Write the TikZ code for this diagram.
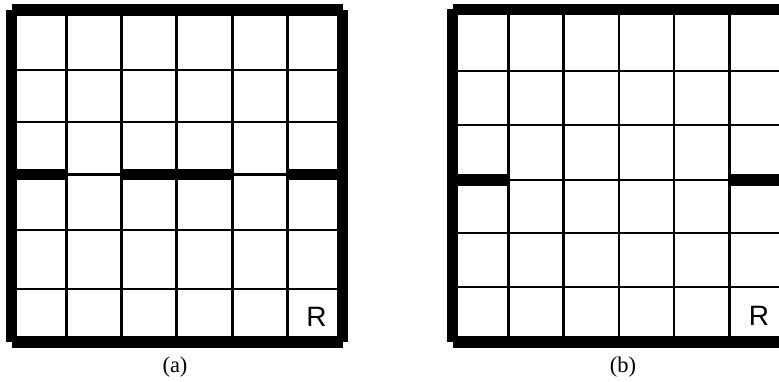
\documentclass[tikz,border=0pt]{standalone}
\usepackage{fontspec}
\newfontfamily\rfont{Liberation Sans}
\newfontfamily\capfont{Liberation Serif}
\begin{document}
\begin{tikzpicture}[x=1pt,y=-1pt,
  gridline/.style={line width=2.6pt, line cap=butt},
  wall/.style={line width=11.5pt, line cap=butt},
  rmark/.style={font=\rfont\fontsize{28}{28}\selectfont, inner sep=0pt, anchor=base},
  caption/.style={font=\capfont\fontsize{22.5}{22.5}\selectfont, inner sep=0pt, anchor=base}]
\useasboundingbox (0,0) rectangle (779,382);
\clip (0,0) rectangle (779,382);
% ---------- grid (a) ----------
\foreach \x in {11.5,66.3,121.2,176.7,232.3,287.3,342.5}
  \draw[gridline] (\x,10) -- (\x,342);
\foreach \y in {10,70,122,174.5,230,289,342}
  \draw[gridline] (11.5,\y) -- (342.5,\y);
\draw[wall] (11.5,10) -- (342.5,10);
\draw[wall] (11.5,10) -- (11.5,342);
\draw[wall] (342.5,10) -- (342.5,342);
\draw[wall] (11.5,342) -- (342.5,342);
\draw[wall] (11.5,174.5) -- (66.3,174.5);
\draw[wall] (121.2,174.5) -- (232.3,174.5);
\draw[wall] (287.3,174.5) -- (342.5,174.5);
\node[rmark] (ra) at (316.5,326) {R};
\node[caption] (capa) at (175,372) {(a)};
% ---------- grid (b) ----------
\foreach \x in {452.5,508.3,563.7,619,674,729.5,785}
  \draw[gridline] (\x,9.5) -- (\x,342);
\foreach \y in {9.5,71,125,180,233,287,342}
  \draw[gridline] (452.5,\y) -- (785,\y);
\draw[wall] (452.5,9.5) -- (785,9.5);
\draw[wall] (452.5,9.5) -- (452.5,342);
\draw[wall] (785,9.5) -- (785,342);
\draw[wall] (452.5,342) -- (785,342);
\draw[wall] (452.5,180) -- (508.3,180);
\draw[wall] (729.5,180) -- (785,180);
\node[rmark] (rb) at (759,325) {R};
\node[caption] (capb) at (623,372) {(b)};
\end{tikzpicture}
\end{document}
